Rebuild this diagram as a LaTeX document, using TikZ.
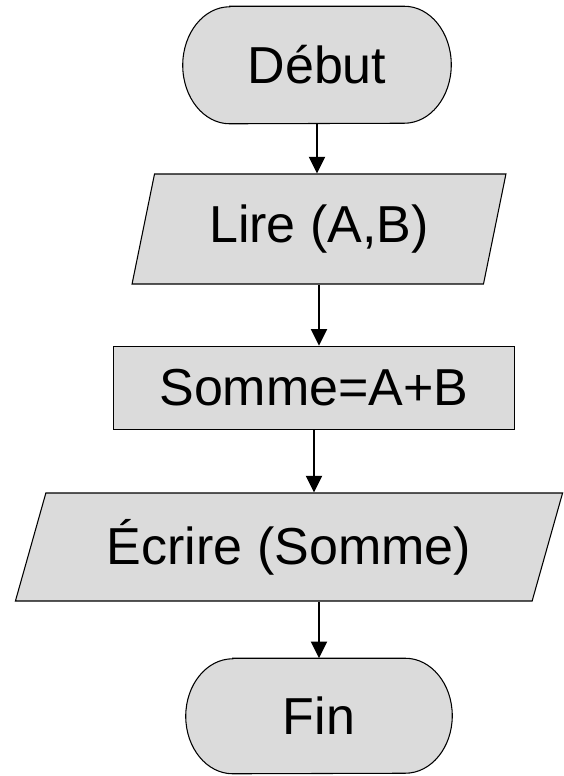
\documentclass[tikz,border=0pt]{standalone}
\usepackage{fontspec}
\setmainfont{Liberation Sans}
\usepackage{tikz}
\usetikzlibrary{shapes,arrows.meta,calc,backgrounds}

\begin{document}
\begin{tikzpicture}[x=0.75pt,y=-0.75pt,
  base/.style={draw=black, line width=0.8pt, fill=black!14, inner sep=0pt, font=\fontsize{39}{47}\selectfont},
  term/.style={inner sep=0pt, font=\fontsize{39}{47}\selectfont, minimum width=201pt, minimum height=87.75pt},
  termline/.style={draw=black, line width=0.8pt, fill=black!14},
  io/.style={base, trapezium, trapezium stretches=true},
  proc/.style={base, rectangle, line width=1.2pt, minimum width=300.75pt, minimum height=62.25pt},
  flow/.style={line width=1.5pt, -{Triangle[length=12.5pt,width=12pt]}}]
\useasboundingbox (0,0) rectangle (564,776);
\node[term] (debut) at (317,65) {Début};
\node[io, trapezium left angle=72.8, trapezium right angle=107.2, minimum width=280.5pt, minimum height=82.5pt] (lire) at (319,229) {Lire (A,B)};
\node[proc] (somme) at (314,388) {Somme=A+B};
\node[io, trapezium left angle=67.8, trapezium right angle=112.2, minimum width=411pt, minimum height=81pt] (ecrire) at (289,547) {Écrire (Somme)};
\node[term, minimum width=199.5pt, minimum height=86.25pt] (fin) at (319,716) {Fin};
% contours debut / fin
\begin{scope}[on background layer]
\draw[termline] ($(debut.north west)+(47,0)$) -- ($(debut.north east)+(-47,0)$)
  arc[start angle=-90, end angle=90, x radius=47, y radius=58.5]
  -- ($(debut.south west)+(47,0)$)
  arc[start angle=90, end angle=270, x radius=47, y radius=58.5] -- cycle;
\draw[termline] ($(fin.north west)+(47,0)$) -- ($(fin.north east)+(-47,0)$)
  arc[start angle=-90, end angle=90, x radius=47, y radius=57.5]
  -- ($(fin.south west)+(47,0)$)
  arc[start angle=90, end angle=270, x radius=47, y radius=57.5] -- cycle;
\end{scope}
% liaisons
\draw[flow] (debut.south) -- (debut.south |- lire.north);
\draw[flow] (lire.south) -- (lire.south |- somme.north);
\draw[flow] (somme.south) -- (somme.south |- ecrire.north);
\draw[flow] (fin.north |- ecrire.south) -- (fin.north);
\end{tikzpicture}
\end{document}
